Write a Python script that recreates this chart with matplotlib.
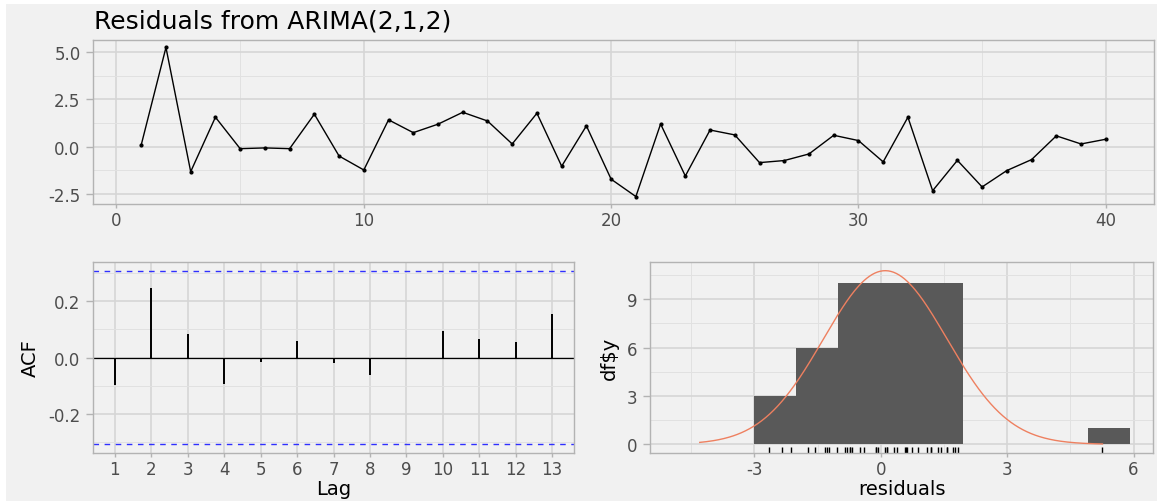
import matplotlib.pyplot as plt
import numpy as np
from matplotlib.patches import Rectangle
from matplotlib.ticker import FormatStrFormatter

# residual series (t = 1..40)
time_idx = list(range(1, 41))
resid = [0.09, 5.26, -1.33, 1.56, -0.11, -0.07, -0.11, 1.72, -0.50, -1.24,
         1.42, 0.74, 1.19, 1.82, 1.36, 0.14, 1.77, -1.04, 1.10, -1.73,
         -2.65, 1.20, -1.56, 0.88, 0.62, -0.85, -0.74, -0.39, 0.60, 0.32,
         -0.81, 1.56, -2.34, -0.73, -2.14, -1.27, -0.69, 0.57, 0.14, 0.39]

# ACF of the residuals
lags = list(range(1, 14))
acf_vals = [-0.097, 0.247, 0.083, -0.093, -0.015, 0.059, -0.019,
            -0.063, -0.007, 0.095, 0.067, 0.056, 0.157]
acf_ci = 0.31

# histogram bins
bin_edges = [-3.0, -2.01, -1.02, -0.03, 0.96, 1.95, 2.94, 3.93, 4.92, 5.91]

BG = '#F1F1F1'
plt.rcParams['font.family'] = ['DejaVu Sans']
plt.rcParams['axes.unicode_minus'] = False


def expand(lo, hi, f=0.05):
    pad = (hi - lo) * f
    return lo - pad, hi + pad


def style(ax, xmaj, xmin, ymaj, ymin):
    ax.set_facecolor(BG)
    ax.set_xticks(xmaj)
    ax.set_xticks(xmin, minor=True)
    ax.set_yticks(ymaj)
    ax.set_yticks(ymin, minor=True)
    ax.grid(which='major', color='#D6D6D6', lw=1.2)
    ax.grid(which='minor', color='#E1E1E1', lw=0.7)
    ax.set_axisbelow(True)
    ax.tick_params(which='minor', length=0)
    ax.tick_params(which='major', color='#B3B3B3', labelcolor='#4D4D4D',
                   labelsize=12, width=1)
    ax.tick_params(axis='x', length=3, pad=2)
    ax.tick_params(axis='y', length=5, pad=4)
    for s in ax.spines.values():
        s.set_color('#B3B3B3')
        s.set_linewidth(1)


W, H = 1157, 502
fig = plt.figure(figsize=(W / 100, H / 100), dpi=100, facecolor='white')
fig.patches.append(Rectangle((6 / W, 0), 1, (H - 5) / H, transform=fig.transFigure,
                             facecolor=BG, edgecolor='none', zorder=-10))

# top: residuals over time
ax1 = fig.add_axes([93 / W, 1 - 205 / H, (1154 - 93) / W, (205 - 41) / H])
ax1.plot(time_idx, resid, color='black', lw=1, marker='o', ms=2)
style(ax1, [0, 10, 20, 30, 40], [5, 15, 25, 35],
      [-2.5, 0, 2.5, 5.0], [-1.25, 1.25, 3.75])
ax1.yaxis.set_major_formatter(FormatStrFormatter('%.1f'))
ax1.set_xlim(*expand(min(time_idx), max(time_idx)))
ax1.set_ylim(*expand(min(resid), max(resid)))
fig.text(94 / W, 1 - 29 / H, 'Residuals from ARIMA(2,1,2)', fontsize=18,
         ha='left', va='baseline', color='black')

# bottom left: ACF
ax2 = fig.add_axes([93 / W, 1 - 454 / H, (574 - 93) / W, (454 - 263) / H])
ax2.vlines(lags, 0, acf_vals, color='black', lw=1.4)
ax2.axhline(0, color='black', lw=0.9)
for c in (acf_ci, -acf_ci):
    ax2.axhline(c, color='#2F2FFF', lw=1.0, ls=(0, (4, 4)))
style(ax2, lags, [], [-0.2, 0.0, 0.2], [-0.3, -0.1, 0.1, 0.3])
ax2.yaxis.set_major_formatter(FormatStrFormatter('%.1f'))
ax2.set_xlim(*expand(min(lags), max(lags)))
ax2.set_ylim(*expand(-acf_ci, acf_ci))
ax2.set_xlabel('Lag', fontsize=14, labelpad=1)
ax2.set_ylabel('ACF', fontsize=14, labelpad=6)

# bottom right: histogram with normal curve and rug
ax3 = fig.add_axes([650 / W, 1 - 454 / H, (1153 - 650) / W, (454 - 263) / H])
counts, _, _ = ax3.hist(resid, bins=bin_edges, color='#595959', edgecolor='none')
r = np.array(resid)
mu, sd = r.mean(), r.std(ddof=1)
binw = bin_edges[1] - bin_edges[0]
xs = np.linspace(min(mu - 3 * sd, r.min()), max(mu + 3 * sd, r.max()), 300)
ys = len(r) * binw * np.exp(-0.5 * ((xs - mu) / sd) ** 2) / (sd * np.sqrt(2 * np.pi))
ax3.plot(xs, ys, color='#EE8060', lw=1)
ax3.vlines(resid, 0, 0.03, transform=ax3.get_xaxis_transform(), color='black', lw=1)
style(ax3, [-3, 0, 3, 6], [-4.5, -1.5, 1.5, 4.5], [0, 3, 6, 9], [1.5, 4.5, 7.5, 10.5])
ax3.set_xlim(-5.48, 6.46)
ax3.set_ylim(*expand(0, max(counts.max(), ys.max())))
ax3.set_xlabel('residuals', fontsize=14, labelpad=1)
ax3.set_ylabel(r'df\$y', fontsize=14, labelpad=6)

fig.savefig('out.png', dpi=100, facecolor=fig.get_facecolor())
